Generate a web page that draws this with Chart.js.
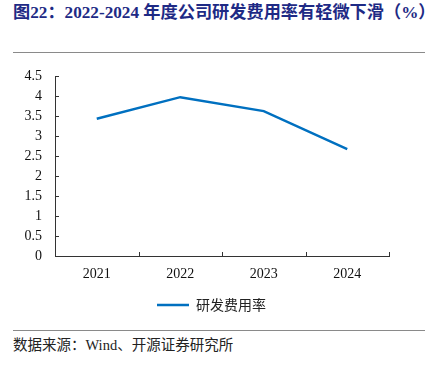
<!DOCTYPE html>
<html>
<head>
<meta charset="utf-8">
<script src="https://cdn.jsdelivr.net/npm/chart.js@4.4.1/dist/chart.umd.min.js"></script>
<style>
  html, body { margin: 0; padding: 0; background: #fff; }
  body { width: 436px; height: 366px; position: relative; overflow: hidden; }
  #title { position: absolute; left: 13px; top: 3px; white-space: nowrap;
    font-family: "Liberation Serif", "Noto Sans CJK SC", serif; font-weight: bold;
    font-size: 17.2px; color: #1e2a85; line-height: 20px; }
  .rule { position: absolute; left: 13px; width: 412px; height: 1px; background: #8a8a8a; }
  #source { position: absolute; left: 13px; top: 336px; white-space: nowrap;
    font-family: "Liberation Serif", "Noto Sans CJK SC", serif; font-size: 14.5px; color: #222; line-height: 18px; }
  #wrap { position: absolute; left: 0; top: 55px; width: 436px; height: 270px; }
  #c { display: block; }
</style>
</head>
<body>
<div id="title">图22：2022-2024 年度公司研发费用率有轻微下滑（%）</div>
<div class="rule" style="top:52px"></div>
<div id="wrap"><canvas id="c" width="436" height="270"></canvas></div>
<div class="rule" style="top:330px"></div>
<div id="source">数据来源：Wind、开源证券研究所</div>
<script>
const categories = ["2021", "2022", "2023", "2024"];
const seriesName = "研发费用率";
const seriesValues = [3.44, 3.98, 3.63, 2.68];
const yMin = 0, yMax = 4.5, yStep = 0.5;

const axisColor = "#333333";
const inwardTicks = {
  id: "inwardTicks",
  afterDraw(chart) {
    const ctx = chart.ctx;
    const x = chart.scales.x, y = chart.scales.y;
    ctx.save();
    ctx.strokeStyle = axisColor;
    ctx.lineWidth = 1;
    ctx.beginPath();
    y.ticks.forEach((t, i) => {
      const py = Math.round(y.getPixelForTick(i)) + 0.5;
      ctx.moveTo(x.left, py); ctx.lineTo(x.left + 4, py);
    });
    const n = categories.length;
    for (let i = 0; i <= n; i++) {
      const px = Math.round(x.getPixelForValue(i - 0.5)) + 0.5;
      ctx.moveTo(px, y.bottom); ctx.lineTo(px, y.bottom - 4);
    }
    ctx.stroke();
    ctx.restore();
  }
};

new Chart(document.getElementById("c"), {
  type: "line",
  data: {
    labels: categories,
    datasets: [{
      label: seriesName,
      data: seriesValues,
      borderColor: "#0070c0",
      backgroundColor: "#0070c0",
      borderWidth: 2.5,
      pointRadius: 0,
      tension: 0,
      pointStyle: "line"
    }]
  },
  options: {
    responsive: false,
    animation: false,
    devicePixelRatio: 1,
    layout: { padding: { top: 8.6, left: 0, right: 13, bottom: 3 } },
    plugins: {
      tooltip: { enabled: false },
      legend: {
        position: "bottom",
        labels: {
          usePointStyle: true,
          pointStyle: "line",
          pointStyleWidth: 32,
          boxHeight: 12,
          padding: 10,
          color: "#222",
          font: { family: "'Noto Sans CJK SC', sans-serif", size: 14 },
          generateLabels(chart) {
            return [{ text: seriesName, strokeStyle: "#0070c0", fillStyle: "#0070c0",
              lineWidth: 2.5, pointStyle: "line", datasetIndex: 0, fontColor: "#222" }];
          }
        }
      }
    },
    scales: {
      x: {
        offset: true,
        grid: { display: true, drawOnChartArea: false, drawTicks: false, color: axisColor, offset: true },
        border: { display: true, color: axisColor, width: 1 },
        ticks: { padding: 10, color: "#111", font: { family: "'Liberation Serif', serif", size: 14 }, maxRotation: 0 },
        afterFit(s) { s.height = 32; }
      },
      y: {
        min: yMin, max: yMax,
        grid: { display: false, drawTicks: false },
        border: { display: true, color: axisColor, width: 1 },
        ticks: { stepSize: yStep, autoSkip: false, padding: 13, color: "#111",
          font: { family: "'Liberation Serif', serif", size: 14 },
          callback: (v) => String(Math.round(v * 10) / 10) },
        afterFit(s) { s.width = 55; }
      },
      yRight: {
        position: "right",
        display: true,
        grid: { display: false, drawTicks: false },
        border: { display: false },
        ticks: { display: false },
        afterFit(s) { s.width = 34; }
      }
    }
  },
  plugins: [inwardTicks]
});
</script>
</body>
</html>
